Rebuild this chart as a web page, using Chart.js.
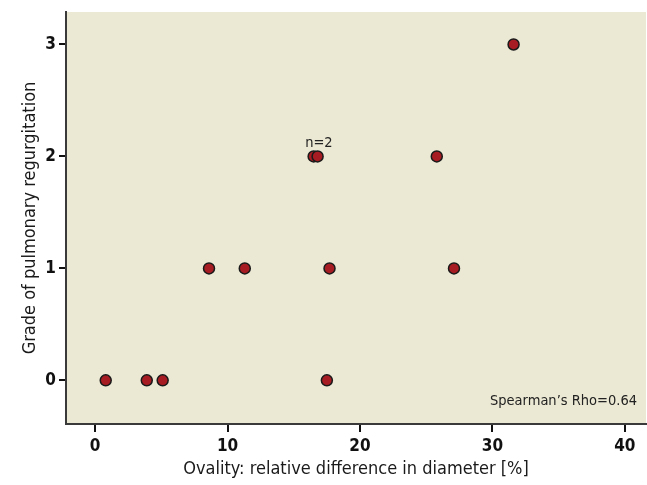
<!DOCTYPE html>
<html>
<head>
<meta charset="utf-8">
<script src="https://cdn.jsdelivr.net/npm/chart.js@4"></script>
<style>
  html, body { margin: 0; padding: 0; background: #fff; overflow: hidden; }
  canvas { display: block; }
</style>
</head>
<body>
<canvas id="canvasS" width="647" height="485"></canvas>
<script>
'use strict';

// values
const ovality = [0.8, 3.9, 5.1, 17.5, 8.6, 11.3, 17.7, 27.1, 16.5, 16.8, 25.8, 31.6];
const grade = [0, 0, 0, 0, 1, 1, 1, 1, 2, 2, 2, 3];
const xTicks = [0, 10, 20, 30, 40];
const yTicks = [0, 1, 2, 3];
const notes = [{x: 16.9, y: 2, text: 'n=2'}];
const rhoText = 'Spearman\u2019s Rho=0.64';

const FONT = "'Liberation Sans Narrow', 'DejaVu Sans Condensed', 'Liberation Sans', sans-serif";

var points = ovality.map(function (v, i) { return {x: v, y: grade[i]}; });

// background of the plot area plus the small text labels
const plotDecor = {
    id: 'plotDecor',
    beforeDraw(chart) {
        const a = chart.chartArea;
        const ctx = chart.ctx;
        ctx.save();
        ctx.fillStyle = '#ebe8d3';
        ctx.fillRect(a.left, a.top, a.right - a.left, a.bottom - a.top);
        ctx.restore();
    },
    afterDatasetsDraw(chart) {
        const ctx = chart.ctx;
        const xs = chart.scales.x, ys = chart.scales.y;
        const a = chart.chartArea;
        ctx.save();
        ctx.fillStyle = '#222';
        ctx.font = '14.5px ' + FONT;
        ctx.textAlign = 'center';
        ctx.textBaseline = 'bottom';
        notes.forEach(function (n) {
            ctx.fillText(n.text, xs.getPixelForValue(n.x), ys.getPixelForValue(n.y) - 6);
        });
        ctx.textAlign = 'right';
        ctx.fillText(rhoText, a.right - 9, a.bottom - 16);
        ctx.restore();
    }
};

const config = {
    type: 'scatter',
    data: {
        datasets: [{
            data: points,
            backgroundColor: '#a61c22',
            borderColor: '#1a1a1a',
            borderWidth: 1.5,
            pointRadius: 5.5,
        }]
    },
    options: {
        responsive: false,
        animation: false,
        devicePixelRatio: 1,
        layout: { autoPadding: false, padding: { top: 12, right: 1, left: 20, bottom: 0 } },
        plugins: {
            legend: { display: false },
            tooltip: { enabled: false }
        },
        scales: {
            x: {
                type: 'linear',
                min: -2.2,
                max: 41.6,
                afterFit(scale) {
                    scale.height = 61;
                    scale.paddingLeft = 0;
                    scale.paddingRight = 0;
                },
                afterBuildTicks(scale) { scale.ticks = xTicks.map(function (v) { return {value: v}; }); },
                border: { display: true, color: '#3a3a3a', width: 2 },
                grid: { drawOnChartArea: false, drawTicks: true, tickLength: 8, color: '#111', lineWidth: 2 },
                ticks: {
                    color: '#111',
                    padding: 4,
                    font: { family: FONT, size: 17, weight: 'bold' }
                },
                title: {
                    display: true,
                    text: 'Ovality: relative difference in diameter [%]',
                    color: '#1a1a1a',
                    padding: { top: 0, bottom: 5 },
                    font: { family: FONT, size: 18 }
                }
            },
            y: {
                type: 'linear',
                min: -0.39,
                max: 3.29,
                afterFit(scale) {
                    scale.width = 46;
                    scale.paddingTop = 0;
                    scale.paddingBottom = 0;
                },
                afterBuildTicks(scale) { scale.ticks = yTicks.map(function (v) { return {value: v}; }); },
                border: { display: true, color: '#3a3a3a', width: 2 },
                grid: { drawOnChartArea: false, drawTicks: true, tickLength: 7, color: '#111', lineWidth: 2 },
                ticks: {
                    color: '#111',
                    padding: 3,
                    font: { family: FONT, size: 17, weight: 'bold' }
                },
                title: {
                    display: true,
                    text: 'Grade of pulmonary regurgitation',
                    color: '#1a1a1a',
                    padding: { top: 0, bottom: 0 },
                    font: { family: FONT, size: 18 }
                }
            }
        }
    },
    plugins: [plotDecor]
};

const ctx_s = document.querySelector('#canvasS').getContext('2d');
let chart_s = new Chart(ctx_s, config);
</script>
</body>
</html>
